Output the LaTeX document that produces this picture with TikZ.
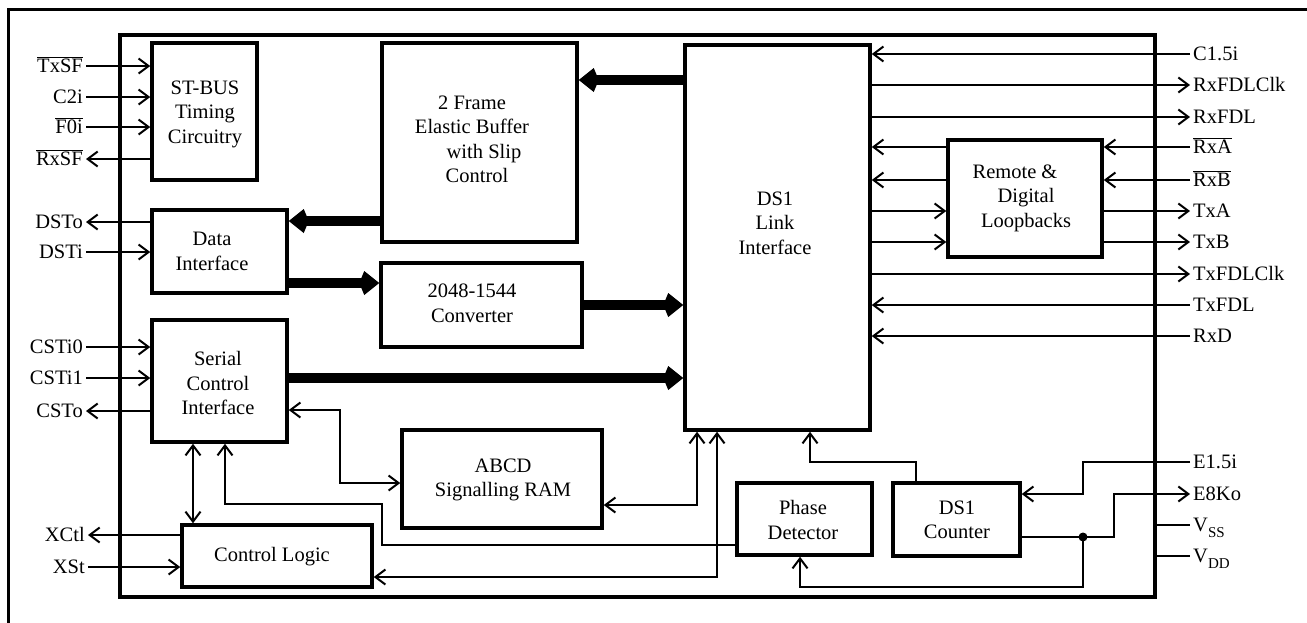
\documentclass[tikz,border=0pt]{standalone}
\usepackage{fontspec}
\setmainfont{Liberation Serif}
\usetikzlibrary{arrows.meta}
\newcommand{\myfs}{\fontsize{20.5}{24.5}\selectfont}
\newcommand{\pinbar}[1]{$\overline{\mbox{#1}}$}
\newcommand{\pinsub}[1]{\raisebox{-6pt}{\fontsize{15}{15}\selectfont #1}}
\begin{document}
\begin{tikzpicture}[x=1pt,y=-1pt,
  >={Straight Barb[length=10pt,width=15pt]},
  blk/.style={draw, line width=3.5pt, inner sep=0pt},
  txt/.style={align=center, font=\myfs, inner sep=0pt},
  pinl/.style={font=\myfs, anchor=east, inner sep=3pt, text height=16pt, text depth=3pt},
  pinr/.style={font=\myfs, anchor=west, inner sep=3pt, text height=16pt, text depth=3pt},
  sig/.style={line width=2pt},
  bus/.style={line width=10pt, -{Kite[length=20pt,width=24pt,inset=5pt]}},
]
\useasboundingbox (0,0) rectangle (1307,622);
% outer frame (cropped)
\draw[line width=3pt] (8,700) -- (8,9) -- (1400,9);

% chip outline
\node[blk, minimum width=1035pt, minimum height=562pt] (chip) at (637.5,316) {};

% blocks
\node[blk, minimum width=105pt, minimum height=137pt] (stbus) at (204.5,111.5) {};
\node[blk, minimum width=135pt, minimum height=83pt] (datai) at (219.5,251.5) {};
\node[blk, minimum width=135pt, minimum height=122pt] (serial) at (219.5,381) {};
\node[blk, minimum width=190pt, minimum height=62pt] (ctrl) at (277,556) {};
\node[blk, minimum width=195pt, minimum height=199pt] (buffer) at (479.5,142.5) {};
\node[blk, minimum width=201pt, minimum height=84pt] (conv) at (481.5,305) {};
\node[blk, minimum width=200pt, minimum height=98pt] (ram) at (502,479) {};
\node[blk, minimum width=185pt, minimum height=385pt] (ds1) at (777.5,237.5) {};
\node[blk, minimum width=154pt, minimum height=117pt] (remote) at (1025,198.5) {};
\node[blk, minimum width=135pt, minimum height=72pt] (phase) at (804.5,519) {};
\node[blk, minimum width=127pt, minimum height=73pt] (counter) at (956.5,519.5) {};

% block texts
\node[txt] (t-stbus) at (205,114) {ST-BUS\\Timing\\Circuitry};
\node[txt] (t-buffer) at (472,139.5) {2 Frame\\Elastic Buffer\\\hspace*{24pt}with Slip\\\hspace*{10pt}Control};
\node[txt] (t-datai) at (212,251.5) {Data\\Interface};
\node[txt] (t-serial) at (218,383) {Serial\\Control\\Interface};
\node[txt] (t-ctrl) at (272,557) {Control Logic};
\node[txt] (t-conv) at (472,303.5) {2048-1544\\Converter};
\node[txt] (t-ram) at (503,480) {ABCD\\Signalling RAM};
\node[txt] (t-ds1) at (775,223) {DS1\\Link\\Interface};
\node[txt] (t-remote) at (1026,198) {Remote \&\hspace*{22pt}\\Digital\hspace*{20pt}\\Loopbacks};
\node[txt] (t-phase) at (803,520) {Phase\\Detector};
\node[txt] (t-counter) at (957,520) {DS1\\Counter};

% left pins
\node[pinl] (TxSF) at (86,66) {\pinbar{TxSF}};
\node[pinl] (C2i) at (86,97) {C2i};
\node[pinl] (F0i) at (86,127) {\pinbar{F0i}};
\node[pinl] (RxSF) at (86,159) {\pinbar{RxSF}};
\node[pinl] (DSTo) at (86,222) {DSTo};
\node[pinl] (DSTi) at (86,252) {DSTi};
\node[pinl] (CSTi0) at (86,347) {CSTi0};
\node[pinl] (CSTi1) at (86,378) {CSTi1};
\node[pinl] (CSTo) at (86,411) {CSTo};
\node[pinl] (XCtl) at (88,535) {XCtl};
\node[pinl] (XSt) at (88,567) {XSt};

% right pins
\node[pinr] (C15i) at (1190,54) {C1.5i};
\node[pinr] (RxFDLClk) at (1190,85) {RxFDLClk};
\node[pinr] (RxFDL) at (1190,117) {RxFDL};
\node[pinr] (RxA) at (1190,147) {\pinbar{RxA}};
\node[pinr] (RxB) at (1190,180) {\pinbar{RxB}};
\node[pinr] (TxA) at (1190,211) {TxA};
\node[pinr] (TxB) at (1190,242) {TxB};
\node[pinr] (TxFDLClk) at (1190,274) {TxFDLClk};
\node[pinr] (TxFDL) at (1190,305) {TxFDL};
\node[pinr] (RxD) at (1190,336) {RxD};
\node[pinr] (E15i) at (1190,462) {E1.5i};
\node[pinr] (E8Ko) at (1190,494) {E8Ko};
\node[pinr] (VSS) at (1190,525) {V\pinsub{SS}};
\node[pinr] (VDD) at (1190,556) {V\pinsub{DD}};

% left pin connections
\draw[sig,->] (TxSF.east) -- (TxSF.east -| stbus.west);
\draw[sig,->] (C2i.east) -- (C2i.east -| stbus.west);
\draw[sig,->] (F0i.east) -- (F0i.east -| stbus.west);
\draw[sig,->] (RxSF.east -| stbus.west) -- (RxSF.east);
\draw[sig,->] (DSTo.east -| datai.west) -- (DSTo.east);
\draw[sig,->] (DSTi.east) -- (DSTi.east -| datai.west);
\draw[sig,->] (CSTi0.east) -- (CSTi0.east -| serial.west);
\draw[sig,->] (CSTi1.east) -- (CSTi1.east -| serial.west);
\draw[sig,->] (CSTo.east -| serial.west) -- (CSTo.east);
\draw[sig,->] (XCtl.east -| ctrl.west) -- (XCtl.east);
\draw[sig,->] (XSt.east) -- (XSt.east -| ctrl.west);

% right pin connections
\draw[sig,->] (C15i.west) -- (C15i.west -| ds1.east);
\draw[sig,->] (RxFDLClk.west -| ds1.east) -- (RxFDLClk.west);
\draw[sig,->] (RxFDL.west -| ds1.east) -- (RxFDL.west);
\draw[sig,->] (RxA.west) -- (RxA.west -| remote.east);
\draw[sig,->] (RxB.west) -- (RxB.west -| remote.east);
\draw[sig,->] (TxA.west -| remote.east) -- (TxA.west);
\draw[sig,->] (TxB.west -| remote.east) -- (TxB.west);
\draw[sig,->] (RxA.west -| remote.west) -- (RxA.west -| ds1.east);
\draw[sig,->] (RxB.west -| remote.west) -- (RxB.west -| ds1.east);
\draw[sig,->] (TxA.west -| ds1.east) -- (TxA.west -| remote.west);
\draw[sig,->] (TxB.west -| ds1.east) -- (TxB.west -| remote.west);
\draw[sig,->] (TxFDLClk.west -| ds1.east) -- (TxFDLClk.west);
\draw[sig,->] (TxFDL.west) -- (TxFDL.west -| ds1.east);
\draw[sig,->] (RxD.west) -- (RxD.west -| ds1.east);
\draw[sig] (VSS.west -| chip.east) -- (VSS.west);
\draw[sig] (VDD.west -| chip.east) -- (VDD.west);

% buses
\draw[bus] (ds1.west |- 0,80) -- (buffer.east |- 0,80);
\draw[bus] (buffer.west |- 0,221) -- (datai.east |- 0,221);
\draw[bus] (datai.east |- 0,283) -- (conv.west |- 0,283);
\draw[bus] (conv.east |- 0,305) -- (ds1.west |- 0,305);
\draw[bus] (serial.east |- 0,378) -- (ds1.west |- 0,378);

% internal control signals
\draw[sig,<->] (serial.east |- 0,410) -| (340,483) -- (ram.west |- 0,483);
\draw[sig,<->] (ram.east |- 0,505) -| (ds1.south -| 697,0);
\draw[sig,<->] (ctrl.east |- 0,577) -| (ds1.south -| 717,0);
\draw[sig,<->] (serial.south -| 193,0) -- (ctrl.north -| 193,0);
\draw[sig,->] (phase.west |- 0,545) -| (382,504) -| (serial.south -| 225,0);
\draw[sig,->] (counter.north -| 916,0) |- (810,462) -- (ds1.south -| 810,0);
\draw[sig,->] (E15i.west) -| (1083,494) -- (counter.east |- 0,494);
\draw[sig,->] (counter.east |- 0,537) -| (1114,494) -- (E8Ko.west);
\node[circle, fill, inner sep=0pt, minimum size=9pt] (dot) at (1083,537) {};
\draw[sig,->] (dot.center) |- (800,587) -- (phase.south -| 800,0);
\end{tikzpicture}
\end{document}
